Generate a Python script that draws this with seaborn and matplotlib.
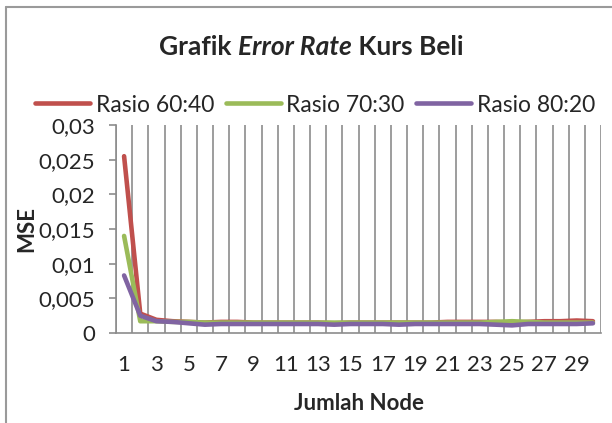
import numpy as np
import pandas as pd
import seaborn as sns
import matplotlib.pyplot as plt
from matplotlib.lines import Line2D
from matplotlib.ticker import FixedLocator, NullFormatter

title_parts = [("Grafik ", "normal"), ("Error Rate", "italic"), (" Kurs Beli", "normal")]
xlabel = "Jumlah Node"
ylabel = "MSE"

nodes = list(range(1, 31))
series_names = ["Rasio 60:40", "Rasio 70:30", "Rasio 80:20"]
colors = ["#C0504D", "#9BBB59", "#8064A2"]

# MSE
rasio_60_40 = [0.0255, 0.0028, 0.0019, 0.0017, 0.0016, 0.0015, 0.0016, 0.0016, 0.0015, 0.0015,
               0.0015, 0.0015, 0.0015, 0.0014, 0.0015, 0.0015, 0.0015, 0.0015, 0.0015, 0.0015,
               0.0016, 0.0016, 0.0016, 0.0016, 0.0015, 0.0016, 0.0017, 0.0017, 0.0018, 0.0017]
rasio_70_30 = [0.0140, 0.0017, 0.0017, 0.0016, 0.0016, 0.0015, 0.0015, 0.0015, 0.0015, 0.0015,
               0.0015, 0.0015, 0.0015, 0.0015, 0.0015, 0.0015, 0.0015, 0.0015, 0.0015, 0.0015,
               0.0015, 0.0015, 0.0015, 0.0016, 0.0017, 0.0016, 0.0015, 0.0015, 0.0015, 0.0015]
rasio_80_20 = [0.0083, 0.0025, 0.0017, 0.0016, 0.0014, 0.0012, 0.0013, 0.0013, 0.0013, 0.0013,
               0.0013, 0.0013, 0.0013, 0.0012, 0.0013, 0.0013, 0.0013, 0.0012, 0.0013, 0.0013,
               0.0013, 0.0013, 0.0013, 0.0012, 0.0011, 0.0013, 0.0013, 0.0013, 0.0013, 0.0014]

yticks = [0, 0.005, 0.01, 0.015, 0.02, 0.025, 0.03]
ytick_labels = ["0", "0,005", "0,01", "0,015", "0,02", "0,025", "0,03"]
xticks = nodes[::2]

df = pd.DataFrame({"Jumlah Node": nodes * 3,
                   "MSE": rasio_60_40 + rasio_70_30 + rasio_80_20,
                   "Seri": sum([[n] * len(nodes) for n in series_names], [])})

sns.set_style("white")
plt.rcParams["font.family"] = ["Lato", "DejaVu Sans"]

W, H = 612, 423
fig = plt.figure(figsize=(W / 100, H / 100), dpi=100)
ax = fig.add_axes([116 / W, (H - 333) / H, 485 / W, 208 / H])

sns.lineplot(data=df, x="Jumlah Node", y="MSE", hue="Seri", palette=colors,
             linewidth=3.3, ax=ax, legend=False, solid_capstyle="round")

grid_col = "#8C8C8C"
ax.set_xlim(0.5, 30.5)
ax.set_ylim(0, 0.03)
ax.set_xticks(xticks)
ax.set_xticklabels([str(v) for v in xticks], fontsize=16)
ax.xaxis.set_minor_locator(FixedLocator(np.arange(0.5, 31, 1)))
ax.xaxis.set_minor_formatter(NullFormatter())
ax.tick_params(axis="x", which="major", length=0, pad=16)
ax.tick_params(axis="x", which="minor", length=4, width=1.2, color=grid_col, direction="out")
ax.set_yticks(yticks)
ax.set_yticklabels(ytick_labels, fontsize=16)
ax.tick_params(axis="y", length=5, width=1.2, color=grid_col, direction="out", pad=10, left=True)
ax.grid(axis="x", which="minor", color=grid_col, linewidth=1.2)
ax.grid(axis="x", which="major", visible=False)
ax.grid(axis="y", visible=False)
for side in ["top", "right"]:
    ax.spines[side].set_visible(False)
for side in ["left", "bottom"]:
    ax.spines[side].set_color(grid_col)
    ax.spines[side].set_linewidth(1.2)

ax.set_xlabel(xlabel, fontsize=16, fontweight="bold", labelpad=13)
ax.set_ylabel(ylabel, fontsize=16, fontweight="bold", labelpad=1)

handles = [Line2D([0], [0], color=c, linewidth=3.3, solid_capstyle="round") for c in colors]
fig.legend(handles, series_names, loc="center", bbox_to_anchor=(315 / W, (H - 105) / H),
           ncol=3, frameon=False, fontsize=16.5, handlelength=2.4, handletextpad=0.25,
           columnspacing=0.5)

# title with italic middle part, centred on the chart area
renderer = fig.canvas.get_renderer()
pieces = []
for txt, style in title_parts:
    t = fig.text(0, (H - 47) / H, txt, fontsize=19, fontweight="bold", style=style,
                 va="center", ha="left")
    pieces.append(t)
widths = [p.get_window_extent(renderer).width for p in pieces]
x0 = 311 - sum(widths) / 2
for p, w in zip(pieces, widths):
    p.set_x(x0 / W)
    x0 += w

# chart area border (only left and top edges fall inside the picture)
border = "#9A9A9A"
fig.add_artist(Line2D([6 / W, 6 / W], [0, (H - 7) / H], color=border, linewidth=1.5))
fig.add_artist(Line2D([6 / W, 1], [(H - 7) / H, (H - 7) / H], color=border, linewidth=1.5))

fig.savefig("out.png", dpi=100)
